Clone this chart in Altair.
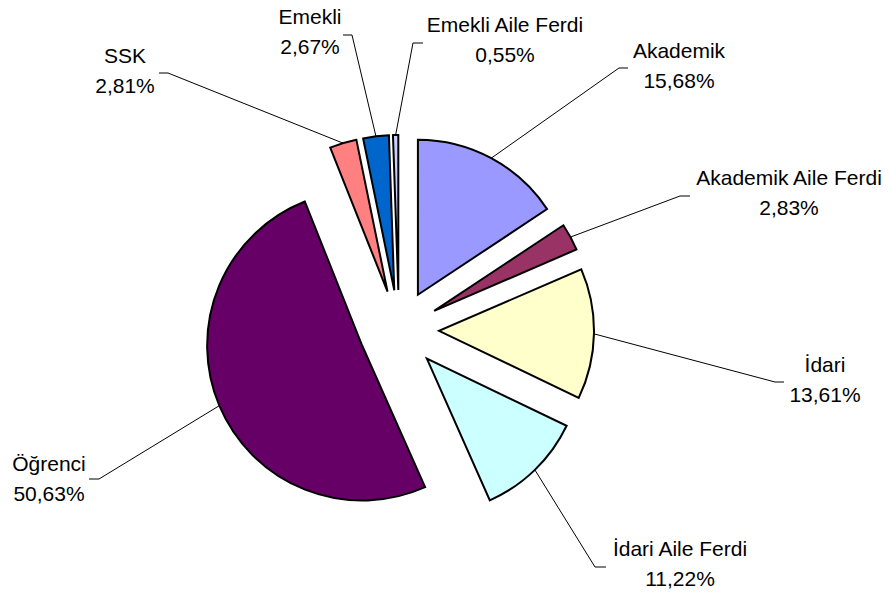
import altair as alt
import pandas as pd

# ---- data ----
categories = ["Akademik", "Akademik Aile Ferdi", "İdari", "İdari Aile Ferdi",
              "Öğrenci", "SSK", "Emekli", "Emekli Aile Ferdi"]
values = [15.68, 2.83, 13.61, 11.22, 50.63, 2.81, 2.67, 0.55]
colors = ["#9999FF", "#993366", "#FFFFCC", "#CCFFFF",
          "#660066", "#FF8080", "#0066CC", "#CCCCFF"]

# ---- label layout (page pixel coordinates) ----
elbow_x = [619, 680, 775, 595, 99, 168, 352, 413]
elbow_y = [68, 196, 382, 567, 479, 73, 35, 43]
tail_x = [628, 690, 784, 606, 89, 159, 343, 423]
text_x = [679, 789, 825, 680, 49, 125, 310, 505]
text_y = [58, 185, 372, 556, 471, 63, 24, 32]

# ---- pie geometry ----
CX, CY = 399, 330      # pie centre (page px)
R = 155                # radius
EXPLODE = 40           # explosion distance
M = 8                  # page margin

df = pd.DataFrame({
    "order": list(range(len(categories))),
    "name": categories,
    "value": values,
    "ex": [v - M for v in elbow_x],
    "ey": [v - M for v in elbow_y],
    "tx": [v - M for v in tail_x],
    "lx0": [v - M for v in text_x],
    "ly0": [v - M for v in text_y],
})

base = alt.Chart(df).transform_window(
    cum="sum(value)", frame=[None, 0], sort=[alt.SortField("order")]
).transform_joinaggregate(
    total="sum(value)"
).transform_calculate(
    t0="2*PI*(datum.cum - datum.value)/datum.total",
    t1="2*PI*datum.cum/datum.total",
).transform_calculate(
    mid="(datum.t0 + datum.t1)/2"
).transform_calculate(
    cx=f"{CX - M} + {EXPLODE}*sin(datum.mid)",
    cy=f"{CY - M} - {EXPLODE}*cos(datum.mid)",
).transform_calculate(
    sx=f"datum.cx + {R}*sin(datum.mid)",
    sy=f"datum.cy - {R}*cos(datum.mid)",
    label="datum.name + '\\n' + replace(format(datum.value, '.2f'), '.', ',') + '%'",
)

pie = base.mark_arc(radius=R, stroke="black", strokeWidth=2).encode(
    x=alt.X("cx:Q", scale=None),
    y=alt.Y("cy:Q", scale=None),
    theta=alt.Theta("t0:Q", scale=None, stack=None),
    theta2=alt.Theta2("t1:Q"),
    color=alt.Color("name:N", scale=alt.Scale(domain=categories, range=colors), legend=None),
    order=alt.Order("order:Q"),
)

leader = base.mark_rule(color="black", strokeWidth=1).encode(
    x=alt.X("sx:Q", scale=None),
    y=alt.Y("sy:Q", scale=None),
    x2="ex:Q",
    y2="ey:Q",
)

tail = base.mark_rule(color="black", strokeWidth=1).encode(
    x=alt.X("ex:Q", scale=None),
    y=alt.Y("ey:Q", scale=None),
    x2="tx:Q",
    y2="ey:Q",
)

labels = base.mark_text(
    font="Liberation Sans", fontSize=21, lineBreak="\n", lineHeight=30,
    baseline="alphabetic", align="center", color="black",
).encode(
    x=alt.X("lx0:Q", scale=None),
    y=alt.Y("ly0:Q", scale=None),
    text="label:N",
)

chart = alt.layer(leader, tail, pie, labels).properties(
    width=873, height=582,
    autosize=alt.AutoSizeParams(type="none"),
    padding=0,
    background="white",
).configure_view(stroke=None)

chart.save("out.html", embed_options={"renderer": "svg", "actions": False})
